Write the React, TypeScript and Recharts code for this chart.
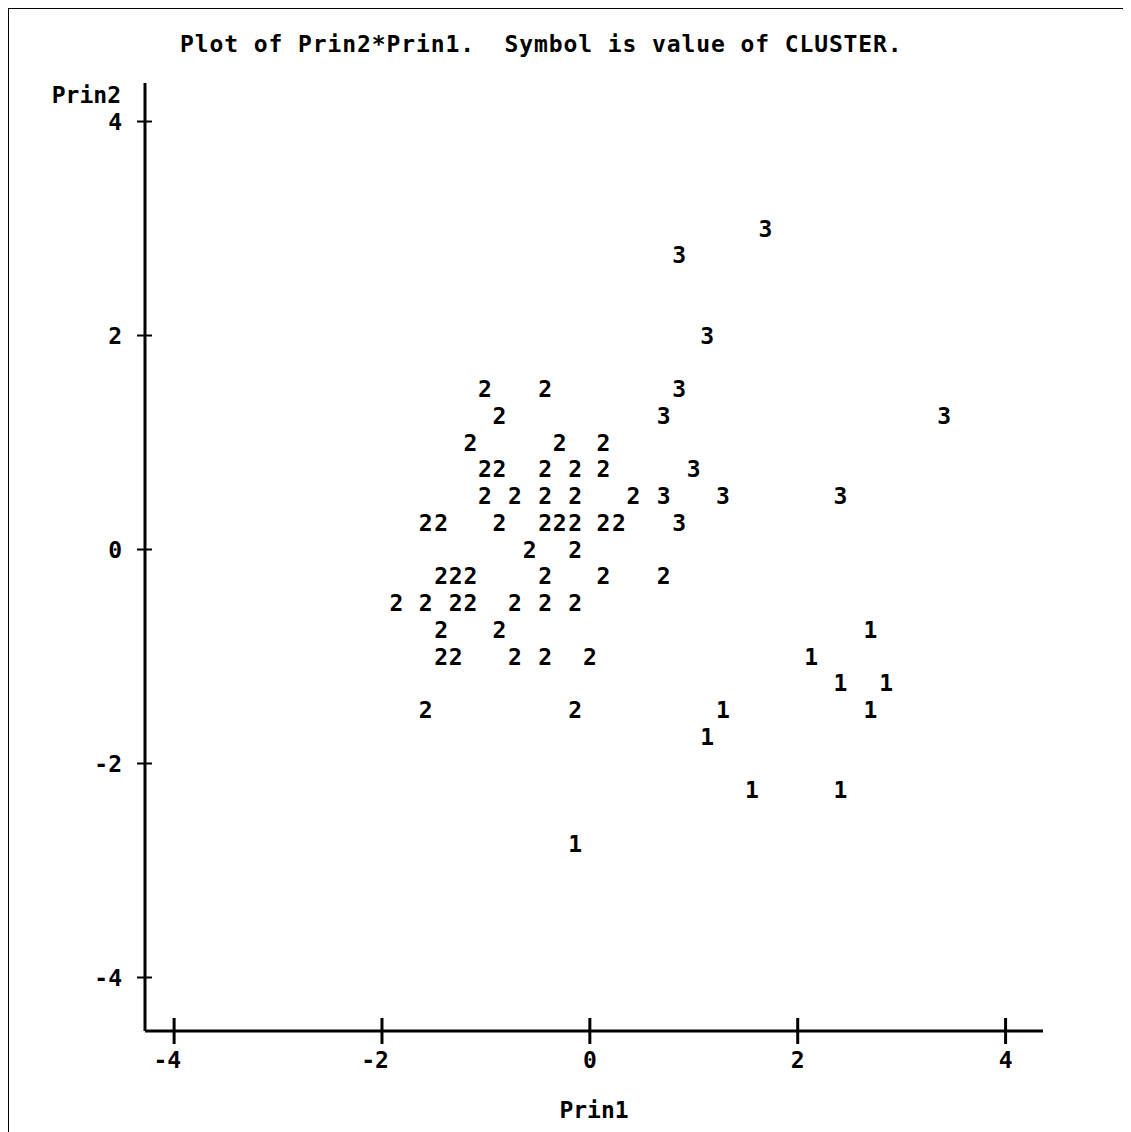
import React from "react";
import { ScatterChart, Scatter, XAxis, YAxis, Label } from "recharts";

// points, grouped by cluster
const cluster1 = [
  { x: 2.7, y: -0.75 },
  { x: 2.13, y: -1.0 },
  { x: 2.41, y: -1.25 },
  { x: 2.85, y: -1.25 },
  { x: 1.28, y: -1.5 },
  { x: 2.7, y: -1.5 },
  { x: 1.13, y: -1.75 },
  { x: 1.56, y: -2.25 },
  { x: 2.41, y: -2.25 },
  { x: -0.14, y: -2.75 },
];

const cluster2 = [
  { x: -1.01, y: 1.5 }, { x: -0.43, y: 1.5 },
  { x: -0.87, y: 1.25 },
  { x: -1.15, y: 1.0 }, { x: -0.29, y: 1.0 }, { x: 0.13, y: 1.0 },
  { x: -1.01, y: 0.75 }, { x: -0.87, y: 0.75 }, { x: -0.43, y: 0.75 }, { x: -0.14, y: 0.75 }, { x: 0.13, y: 0.75 },
  { x: -1.01, y: 0.5 }, { x: -0.72, y: 0.5 }, { x: -0.43, y: 0.5 }, { x: -0.14, y: 0.5 }, { x: 0.42, y: 0.5 },
  { x: -1.58, y: 0.25 }, { x: -1.43, y: 0.25 }, { x: -0.87, y: 0.25 }, { x: -0.43, y: 0.25 },
  { x: -0.29, y: 0.25 }, { x: -0.14, y: 0.25 }, { x: 0.13, y: 0.25 }, { x: 0.28, y: 0.25 },
  { x: -0.58, y: 0 }, { x: -0.14, y: 0 },
  { x: -1.43, y: -0.25 }, { x: -1.29, y: -0.25 }, { x: -1.15, y: -0.25 }, { x: -0.43, y: -0.25 }, { x: 0.13, y: -0.25 }, { x: 0.71, y: -0.25 },
  { x: -1.86, y: -0.5 }, { x: -1.58, y: -0.5 }, { x: -1.29, y: -0.5 }, { x: -1.15, y: -0.5 },
  { x: -0.72, y: -0.5 }, { x: -0.43, y: -0.5 }, { x: -0.14, y: -0.5 },
  { x: -1.43, y: -0.75 }, { x: -0.87, y: -0.75 },
  { x: -1.43, y: -1.0 }, { x: -1.29, y: -1.0 }, { x: -0.72, y: -1.0 }, { x: -0.43, y: -1.0 }, { x: 0.0, y: -1.0 },
  { x: -1.58, y: -1.5 }, { x: -0.14, y: -1.5 },
];

const cluster3 = [
  { x: 1.69, y: 3.0 },
  { x: 0.86, y: 2.75 },
  { x: 1.13, y: 2.0 },
  { x: 0.86, y: 1.5 },
  { x: 0.71, y: 1.25 },
  { x: 3.41, y: 1.25 },
  { x: 1.0, y: 0.75 },
  { x: 0.71, y: 0.5 },
  { x: 1.28, y: 0.5 },
  { x: 2.41, y: 0.5 },
  { x: 0.86, y: 0.25 },
];

const xTicks = [-4, -2, 0, 2, 4];
const yTicks = [-4, -2, 0, 2, 4];

const FONT = "'DejaVu Sans Mono', monospace";

const symbol = (label: string) => (props: any) => (
  <text
    x={props.cx}
    y={props.cy + 8}
    textAnchor="middle"
    fontFamily={FONT}
    fontWeight="bold"
    fontSize={23}
    fill="#000"
  >
    {label}
  </text>
);

const XTick = (props: any) => {
  const { x, y, payload } = props;
  return (
    <g>
      <line x1={x} x2={x} y1={y - 13} y2={y + 13} stroke="#000" strokeWidth={3} />
      <text x={x + 7} y={y + 37} textAnchor="end" fontFamily={FONT} fontWeight="bold" fontSize={23} fill="#000">
        {payload.value}
      </text>
    </g>
  );
};

const YTick = (props: any) => {
  const { x, y, payload } = props;
  return (
    <g>
      <line x1={x - 8} x2={x + 7} y1={y} y2={y} stroke="#000" strokeWidth={2} />
      <text x={x - 23} y={y + 8} textAnchor="end" fontFamily={FONT} fontWeight="bold" fontSize={23} fill="#000">
        {payload.value}
      </text>
    </g>
  );
};

const Prin2Label = (props: any) => {
  const vb = props.viewBox;
  return (
    <text
      x={vb.x + vb.width - 24}
      y={vb.y + 20}
      textAnchor="end"
      fontFamily={FONT}
      fontWeight="bold"
      fontSize={23}
      fill="#000"
    >
      Prin2
    </text>
  );
};

export default function App() {
  return (
    <div style={{ position: "relative", width: 1122, height: 1124, background: "#fff" }}>
      <ScatterChart
        width={1122}
        height={1124}
        margin={{ top: 75, right: 87, left: 77, bottom: 11 }}
      >
        <XAxis
          type="number"
          dataKey="x"
          domain={[-4.28, 4.36]}
          ticks={xTicks}
          allowDataOverflow
          height={90}
          tickSize={0}
          tickMargin={0}
          tickLine={false}
          axisLine={{ stroke: "#000", strokeWidth: 3 }}
          tick={<XTick />}
        >
          <Label
            value="Prin1"
            position="insideBottom"
            offset={3}
            style={{ fontFamily: FONT, fontWeight: "bold", fontSize: 23, fill: "#000" }}
          />
        </XAxis>
        <YAxis
          type="number"
          dataKey="y"
          domain={[-4.5, 4.36]}
          ticks={yTicks}
          allowDataOverflow
          width={60}
          tickSize={0}
          tickMargin={0}
          tickLine={false}
          axisLine={{ stroke: "#000", strokeWidth: 3 }}
          tick={<YTick />}
          label={<Prin2Label />}
        />
        <Scatter data={cluster1} shape={symbol("1")} isAnimationActive={false} />
        <Scatter data={cluster2} shape={symbol("2")} isAnimationActive={false} />
        <Scatter data={cluster3} shape={symbol("3")} isAnimationActive={false} />
      </ScatterChart>
      <svg width={1122} height={60} style={{ position: "absolute", left: 0, top: 0 }}>
        <text
          x={172}
          y={44}
          fontFamily={FONT}
          fontWeight="bold"
          fontSize={23}
          letterSpacing={0.9}
          fill="#000"
          style={{ whiteSpace: "pre" }}
        >
          {"Plot of Prin2*Prin1.  Symbol is value of CLUSTER."}
        </text>
      </svg>
      <div
        style={{
          position: "absolute",
          left: 0,
          top: 0,
          width: 1122,
          height: 1124,
          boxSizing: "border-box",
          borderTop: "1px solid #000",
          borderLeft: "1px solid #000",
          borderRight: "1px solid #000",
          pointerEvents: "none",
        }}
      />
    </div>
  );
}
